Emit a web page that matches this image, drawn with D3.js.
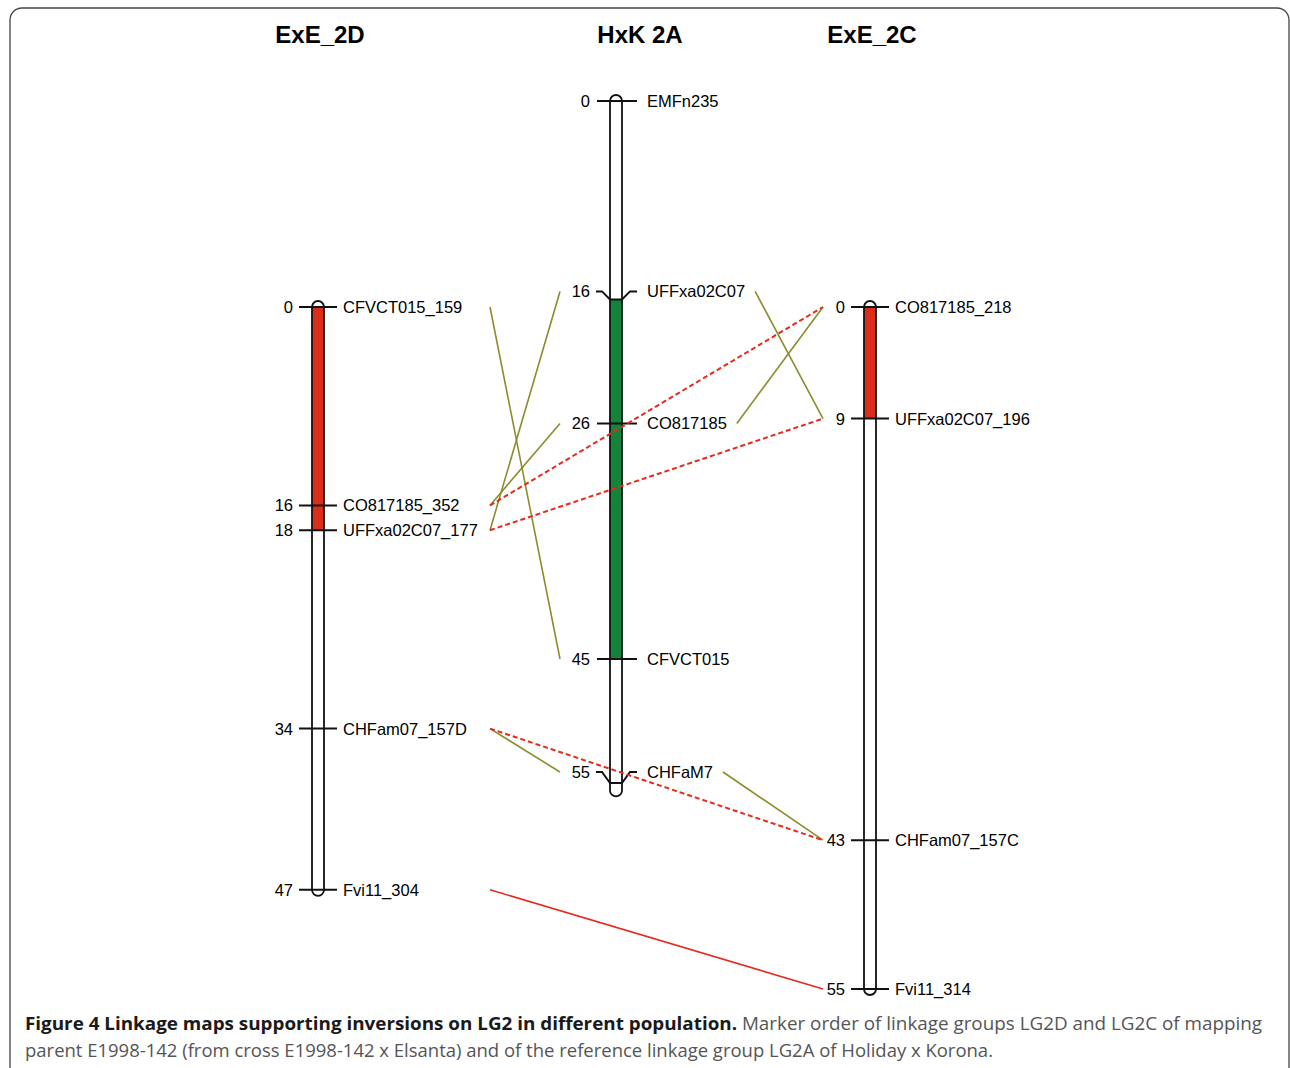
<!DOCTYPE html>
<html>
<head>
<meta charset="utf-8">
<script src="https://cdn.jsdelivr.net/npm/d3@7"></script>
<style>
body{margin:0;background:#fff}
svg{display:block}
text{font-family:"Liberation Sans",Arial,sans-serif}
</style>
</head>
<body>
<div id="chart"></div>
<script>
// linkage groups
const groups=["ExE_2D","HxK 2A","ExE_2C"]
const groupLength=[47,55.6,55]
const markers2D=[["CFVCT015_159",0],["CO817185_352",16],["UFFxa02C07_177",18],["CHFam07_157D",34],["Fvi11_304",47]]
const markers2A=[["EMFn235",0],["UFFxa02C07",16],["CO817185",26],["CFVCT015",45],["CHFaM7",55]]
const markers2C=[["CO817185_218",0],["UFFxa02C07_196",9],["CHFam07_157C",43],["Fvi11_314",55]]
// coloured segments [from,to]
const segments=[[0,18],[16,45],[0,9]]
// links between groups
const links2Dto2A=[["CFVCT015_159","CFVCT015"],["CO817185_352","CO817185"],["UFFxa02C07_177","UFFxa02C07"],["CHFam07_157D","CHFaM7"]]
const links2Ato2C=[["UFFxa02C07","UFFxa02C07_196"],["CO817185","CO817185_218"],["CHFaM7","CHFam07_157C"]]
const links2Dto2Cdash=[["CO817185_352","CO817185_218"],["UFFxa02C07_177","UFFxa02C07_196"],["CHFam07_157D","CHFam07_157C"]]
const links2Dto2Csolid=[["Fvi11_304","Fvi11_314"]]

// layout
const W=1290,H=1068
const centers=[318,616,870]
const tops=[307,101,307]
const segColors=["#dc2d1b","#13843a","#dc2d1b"]
const labelNudge={"UFFxa02C07":-8,"CHFaM7":-11}
const olive="#8c8c2e",red="#e62a1c"

const y=d3.scaleLinear().domain([0,55]).range([0,682])

const svg=d3.select("#chart").append("svg").attr("width",W).attr("height",H)

svg.append("rect")
.attr("x",10).attr("y",8).attr("width",1279).attr("height",1080)
.attr("rx",12)
.attr("fill","none").attr("stroke","#444").attr("stroke-width",1.3)

const allMarkers=[markers2D,markers2A,markers2C]
const pos={}  // per group marker positions

allMarkers.forEach((ms,gi)=>{
pos[gi]={}
const g=svg.append("g")
const cx=centers[gi],t=tops[gi]
g.append("text")
.attr("x",cx+(gi==1?24:2)).attr("y",43)
.attr("text-anchor","middle")
.attr("font-size",24).attr("font-weight","bold")
.text(groups[gi])

// chromosome body
g.append("rect")
.attr("x",cx-6).attr("y",t-6).attr("width",12)
.attr("height",y(groupLength[gi])+12).attr("rx",6)
.attr("fill","#fff")
g.append("rect")
.attr("x",cx-6).attr("y",t+y(segments[gi][0]))
.attr("width",12).attr("height",y(segments[gi][1])-y(segments[gi][0]))
.attr("fill",segColors[gi])
g.append("rect")
.attr("x",cx-6).attr("y",t-6).attr("width",12)
.attr("height",y(groupLength[gi])+12).attr("rx",6)
.attr("fill","none").attr("stroke","#111").attr("stroke-width",1.8)

ms.forEach(m=>{
const my=t+y(m[1])
const ly=my+(labelNudge[m[0]]||0)
const numX=cx-(gi==1?26:25),nameX=cx+(gi==1?31:25)
if(ly==my){
g.append("line").attr("x1",cx-19).attr("x2",cx+(gi==1?21:19))
.attr("y1",my).attr("y2",my).attr("stroke","#111").attr("stroke-width",2)
}else{
g.append("path")
.attr("d",d3.line()([[cx-20,ly],[cx-14,ly],[cx-6,my],[cx+6,my],[cx+14,ly],[cx+21,ly]]))
.attr("fill","none").attr("stroke","#111").attr("stroke-width",2)
}
g.append("text").attr("x",numX).attr("y",ly).attr("dy","0.36em")
.attr("text-anchor","end").attr("font-size",16.5).text(m[1])
const nm=g.append("text").attr("x",nameX).attr("y",ly).attr("dy","0.36em")
.attr("font-size",16.5).text(m[0])
pos[gi][m[0]]={y:ly,end:nameX+nm.node().getComputedTextLength()}
})
})

function drawLinks(list,ga,gb,xa,xb,color,dash){
svg.append("g").selectAll("line").data(list).enter().append("line")
.attr("x1",d=>xa(pos[ga][d[0]])).attr("y1",d=>pos[ga][d[0]].y)
.attr("x2",d=>xb(pos[gb][d[1]])).attr("y2",d=>pos[gb][d[1]].y)
.attr("stroke",color).attr("stroke-width",dash?2:1.6)
.attr("stroke-dasharray",dash?"5,3":null)
}
const left2D=()=>490
const left2A=()=>centers[1]-56
const right2A=p=>p.end+10
const left2C=()=>centers[2]-47

drawLinks(links2Dto2A,0,1,left2D,left2A,olive,false)
drawLinks(links2Ato2C,1,2,right2A,left2C,olive,false)
drawLinks(links2Dto2Cdash,0,2,left2D,left2C,red,true)
drawLinks(links2Dto2Csolid,0,2,left2D,left2C,red,false)

// caption
const cap=svg.append("text").style("font-family","'Open Sans',sans-serif").attr("font-size",18.5)
cap.append("tspan").attr("x",25).attr("y",1030).attr("font-weight","bold").attr("fill","#1a1a1a")
.text("Figure 4 Linkage maps supporting inversions on LG2 in different population.")
cap.append("tspan").attr("fill","#555")
.text(" Marker order of linkage groups LG2D and LG2C of mapping")
const cap2=svg.append("text").style("font-family","'Open Sans',sans-serif").attr("font-size",18.5)
.attr("x",25).attr("y",1057).attr("fill","#555")
.text("parent E1998-142 (from cross E1998-142 x Elsanta) and of the reference linkage group LG2A of Holiday x Korona.")
// squeeze to the narrow caption face
cap.attr("textLength",1237).attr("lengthAdjust","spacingAndGlyphs")
cap2.attr("textLength",968).attr("lengthAdjust","spacingAndGlyphs")
</script>
</body>
</html>
